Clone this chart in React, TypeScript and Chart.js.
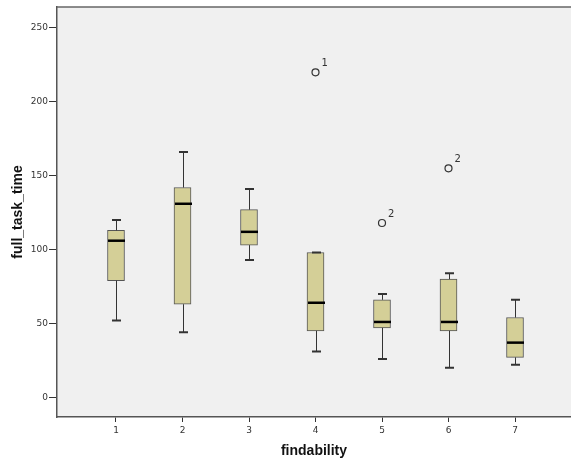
import React, { useEffect, useRef } from "react";
import { Chart, registerables } from "chart.js";

Chart.register(...registerables);

const categories = [1, 2, 3, 4, 5, 6, 7];
const whiskerLow = [52, 44, 93, 31, 26, 20, 22];
const q1 = [79, 63, 103, 45, 47, 45, 27];
const median = [106, 131, 112, 64, 51, 51, 37];
const q3 = [113, 142, 127, 98, 66, 80, 54];
const whiskerHigh = [120, 166, 141, 98, 70, 84, 66];
const outlierX = [4, 5, 6];
const outlierY = [220, 118, 155];
const outlierLabels = ["1", "2", "2"];
const yTicks = [0, 50, 100, 150, 200, 250];
const xTicks = [1, 2, 3, 4, 5, 6, 7];

const BG = "#F0F0F0";
const BOX_FILL = "#D4CF97";
const INK = "#333333";

const boxPlugin = {
  id: "boxExtras",
  beforeDraw(chart: any) {
    const { ctx, chartArea } = chart;
    ctx.save();
    ctx.fillStyle = BG;
    ctx.fillRect(chartArea.left, chartArea.top, chartArea.right - chartArea.left, chartArea.bottom - chartArea.top);
    ctx.restore();
  },
  afterDatasetsDraw(chart: any) {
    const { ctx } = chart;
    const xs = chart.scales.x;
    const ys = chart.scales.y;
    const half = 8.5;
    const cap = 4.5;
    ctx.save();
    categories.forEach((c, i) => {
      const x = Math.round(xs.getPixelForValue(c)) + 0.5;
      const yLo = ys.getPixelForValue(whiskerLow[i]);
      const yQ1 = ys.getPixelForValue(q1[i]);
      const yQ3 = ys.getPixelForValue(q3[i]);
      const yHi = ys.getPixelForValue(whiskerHigh[i]);
      const yMed = ys.getPixelForValue(median[i]);
      ctx.strokeStyle = INK;
      ctx.lineWidth = 1;
      ctx.beginPath();
      ctx.moveTo(x, yQ1);
      ctx.lineTo(x, yLo);
      ctx.moveTo(x, yQ3);
      ctx.lineTo(x, yHi);
      ctx.stroke();
      ctx.lineWidth = 2;
      ctx.beginPath();
      ctx.moveTo(x - cap, yLo);
      ctx.lineTo(x + cap, yLo);
      ctx.moveTo(x - cap, yHi);
      ctx.lineTo(x + cap, yHi);
      ctx.stroke();
      ctx.strokeStyle = "#000";
      ctx.lineWidth = 2.5;
      ctx.beginPath();
      ctx.moveTo(x - half, yMed);
      ctx.lineTo(x + half, yMed);
      ctx.stroke();
    });
    ctx.fillStyle = INK;
    ctx.font = "10px 'DejaVu Sans'";
    ctx.textAlign = "left";
    ctx.textBaseline = "middle";
    outlierX.forEach((ox, i) => {
      const px = xs.getPixelForValue(ox);
      const py = ys.getPixelForValue(outlierY[i]);
      ctx.fillText(outlierLabels[i], px + 6, py - 9);
    });
    ctx.restore();
  },
  afterDraw(chart: any) {
    const { ctx, chartArea } = chart;
    ctx.save();
    ctx.strokeStyle = "#666";
    ctx.lineWidth = 1.5;
    ctx.beginPath();
    ctx.moveTo(chartArea.left, chartArea.top);
    ctx.lineTo(chartArea.right, chartArea.top);
    ctx.stroke();
    ctx.restore();
  },
};

export default function App() {
  const ref = useRef<HTMLCanvasElement>(null);
  useEffect(() => {
    if (!ref.current) return;
    const chart = new Chart(ref.current, {
      type: "bar",
      data: {
        datasets: [
          {
            type: "bar",
            data: categories.map((c, i) => ({ x: c, y: [q1[i], q3[i]] })) as any,
            backgroundColor: BOX_FILL,
            borderColor: "#555",
            borderWidth: 1,
            borderSkipped: false,
            barThickness: 17,
            grouped: false,
          } as any,
          {
            type: "scatter",
            data: outlierX.map((x, i) => ({ x, y: outlierY[i] })),
            pointRadius: 3.5,
            pointBorderWidth: 1.2,
            pointBorderColor: INK,
            pointBackgroundColor: "rgba(0,0,0,0)",
            clip: false,
          } as any,
        ],
      },
      options: {
        responsive: false,
        animation: false,
        events: [],
        layout: { autoPadding: false, padding: { top: 7, right: 0, left: 0, bottom: 0 } },
        plugins: { legend: { display: false }, tooltip: { enabled: false } },
        scales: {
          x: {
            type: "linear",
            min: 0.1128,
            max: 7.842,
            offset: false,
            afterFit: (s: any) => {
              s.height = 44;
              s.paddingLeft = 0;
              s.paddingRight = 0;
            },
            afterBuildTicks: (s: any) => {
              s.ticks = xTicks.map((v) => ({ value: v }));
            },
            grid: { offset: false, drawOnChartArea: false, tickLength: 5, tickColor: INK, tickWidth: 1 },
            border: { color: "#555", width: 1.5 },
            ticks: {
              color: INK,
              font: { family: "'DejaVu Sans'", size: 9 },
              padding: 3,
              maxRotation: 0,
              callback: (v: any) => String(v),
            },
            title: {
              display: true,
              text: "findability",
              color: "#111",
              font: { family: "'Liberation Sans'", size: 14, weight: "bold" },
              padding: { top: 0, bottom: 1.6 },
            },
          },
          y: {
            type: "linear",
            min: -13.34,
            max: 264.2,
            afterFit: (s: any) => {
              s.width = 57;
              s.paddingTop = 0;
              s.paddingBottom = 0;
            },
            afterBuildTicks: (s: any) => {
              s.ticks = yTicks.map((v) => ({ value: v }));
            },
            grid: { offset: false, drawOnChartArea: false, tickLength: 8, tickColor: INK, tickWidth: 1 },
            border: { color: "#555", width: 1.5 },
            ticks: {
              color: INK,
              font: { family: "'DejaVu Sans'", size: 9 },
              padding: 1,
              callback: (v: any) => String(v),
            },
            title: {
              display: true,
              text: "full_task_time",
              color: "#111",
              font: { family: "'Liberation Sans'", size: 14, weight: "bold" },
              padding: { top: 9.5, bottom: 0 },
            },
          },
        },
      } as any,
      plugins: [boxPlugin],
    });
    return () => chart.destroy();
  }, []);
  return (
    <div style={{ position: "fixed", left: 0, top: 0, width: 571, height: 461, background: "#fff" }}>
      <canvas ref={ref} width={571} height={461} style={{ display: "block" }} />
    </div>
  );
}
